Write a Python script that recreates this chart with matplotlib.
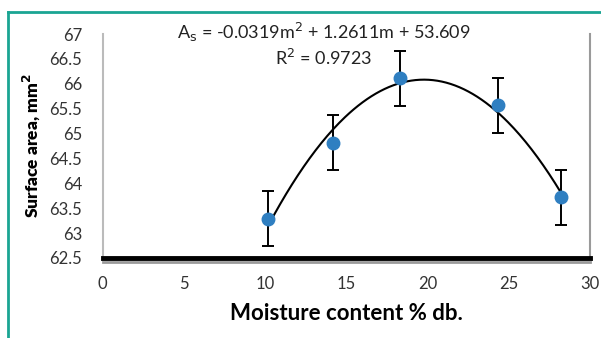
import numpy as np
import matplotlib
matplotlib.use("Agg")
import matplotlib.pyplot as plt
from matplotlib.lines import Line2D

moisture = [10.2, 14.2, 18.3, 24.3, 28.2]
area = [63.29, 64.82, 66.11, 65.57, 63.72]
err = [0.55, 0.55, 0.55, 0.55, 0.55]
xticks = [0, 5, 10, 15, 20, 25, 30]
yticks = [62.5, 63, 63.5, 64, 64.5, 65, 65.5, 66, 66.5, 67]
ytick_labels = ["62.5", "63", "63.5", "64", "64.5", "65", "65.5", "66", "66.5", "67"]

plt.rcParams['font.family'] = ['Lato', 'DejaVu Sans']

fig = plt.figure(figsize=(6.01, 3.38), dpi=100)
ax = fig.add_axes([0.171, 0.237, 0.811, 0.662])

# trendline (2nd order polynomial fit)
coef = np.polyfit(moisture, area, 2)
xs = np.linspace(min(moisture), max(moisture), 200)
ax.plot(xs, np.polyval(coef, xs), color='black', lw=1.5, zorder=2)

ax.errorbar(moisture, area, yerr=err, fmt='o', color='#2f7fc1', ms=9,
            ecolor='black', elinewidth=1.4, capsize=4, capthick=1.4, zorder=3)

ax.set_xlim(0, 30)
ax.set_ylim(62.5, 67)
ax.set_xticks(xticks)
ax.set_yticks(yticks)
ax.set_yticklabels(ytick_labels)
ax.tick_params(length=0, labelsize=12, colors='#333333')
ax.tick_params(axis='y', pad=15)
ax.tick_params(axis='x', pad=13)

ax.spines['top'].set_visible(False)
ax.spines['right'].set_color('#9a9a9a')
ax.spines['right'].set_linewidth(1.5)
ax.spines['left'].set_color('#bbbbbb')
ax.spines['left'].set_linewidth(1.5)
ax.spines['bottom'].set_color('black')
ax.spines['bottom'].set_linewidth(3.5)
# shadow under bottom axis
ax.add_line(Line2D([0.0, 1.0], [-0.018, -0.018], transform=ax.transAxes,
                   color='#9a9a9a', lw=2, clip_on=False, zorder=1))

ax.set_xlabel("Moisture content % db.", fontsize=16, fontweight='bold', labelpad=8)
ax.set_ylabel("Surface area, mm$^\\mathbf{2}$", fontsize=12.5, fontweight='heavy', labelpad=5)

fig.text(0.538, 0.905, "A$_\\mathrm{s}$ = -0.0319m$^2$ + 1.2611m + 53.609",
         ha='center', va='center', fontsize=13, color='#222222')
fig.text(0.538, 0.828, "R$^2$ = 0.9723", ha='center', va='center', fontsize=13, color='#222222')

# teal frame
fig.add_artist(Line2D([8/601, 8/601], [0, 1 - 12/338], transform=fig.transFigure,
                      color='#1aa593', lw=2))
fig.add_artist(Line2D([8/601, 1], [1 - 12/338, 1 - 12/338], transform=fig.transFigure,
                      color='#1aa593', lw=2))

fig.savefig("out.png", dpi=100)
